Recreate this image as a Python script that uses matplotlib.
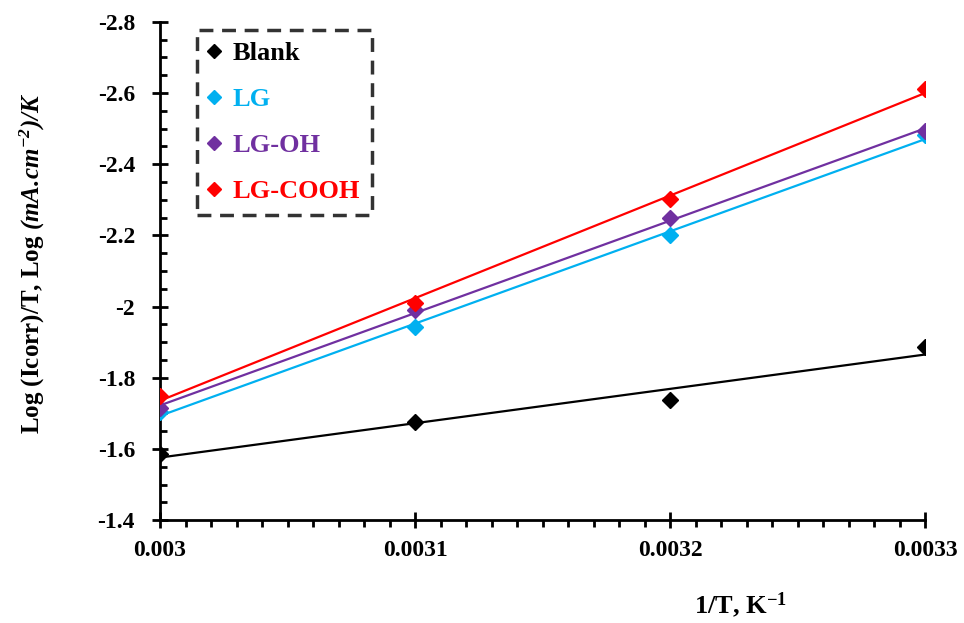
import numpy as np
import matplotlib
matplotlib.use('Agg')
import matplotlib.pyplot as plt
from matplotlib.ticker import MultipleLocator, FuncFormatter

plt.rcParams['font.family'] = ['Liberation Serif', 'DejaVu Serif']
plt.rcParams['font.weight'] = 'bold'
plt.rcParams['mathtext.fontset'] = 'custom'
plt.rcParams['mathtext.rm'] = 'Liberation Serif:bold'
plt.rcParams['mathtext.bf'] = 'Liberation Serif:bold'
plt.rcParams['mathtext.it'] = 'Liberation Serif:italic:bold'
plt.rcParams['mathtext.bfit'] = 'Liberation Serif:italic:bold'

inv_t = [0.0030, 0.0031, 0.0032, 0.0033]
blank = [-1.585, -1.675, -1.737, -1.886]
lg = [-1.704, -1.942, -2.200, -2.482]
lg_oh = [-1.715, -1.990, -2.248, -2.494]
lg_cooh = [-1.748, -2.010, -2.303, -2.611]

series = [
    ('Blank', blank, '#000000'),
    ('LG', lg, '#00B0F0'),
    ('LG-OH', lg_oh, '#7030A0'),
    ('LG-COOH', lg_cooh, '#FF0000'),
]

fig = plt.figure(figsize=(9.64, 6.23), dpi=100)
ax = fig.add_axes([0.166, 0.165, 0.794, 0.800])

x = np.array(inv_t)
for name, vals, color in series:
    slope, icpt = np.polyfit(x, vals, 1)
    ax.plot(x, slope * x + icpt, color=color, linewidth=1.6, zorder=2)
    ax.plot(x, vals, linestyle='none', marker='D', markersize=8.5,
            color=color, label=name, zorder=3)

ax.set_xlim(0.003, 0.0033)
ax.set_ylim(-1.4, -2.8)

for side in ('top', 'right'):
    ax.spines[side].set_visible(False)
for side in ('left', 'bottom'):
    ax.spines[side].set_linewidth(2)

ax.xaxis.set_major_locator(MultipleLocator(0.0001))
ax.xaxis.set_minor_locator(MultipleLocator(0.00001))
ax.yaxis.set_major_locator(MultipleLocator(0.2))
ax.yaxis.set_minor_locator(MultipleLocator(0.05))
ax.xaxis.set_major_formatter(FuncFormatter(lambda v, p: f'{v:.4f}'.rstrip('0')))
ax.yaxis.set_major_formatter(FuncFormatter(lambda v, p: f'{v:.1f}'.rstrip('0').rstrip('.')))

ax.tick_params(axis='both', which='major', direction='inout', length=12, width=2,
               labelsize=17)
ax.tick_params(axis='x', which='major', pad=8)
ax.tick_params(axis='y', which='major', pad=12)
ax.tick_params(axis='x', which='minor', direction='out', length=5, width=2)
ax.tick_params(axis='y', which='minor', direction='in', length=5, width=2)
for lbl in ax.get_xticklabels() + ax.get_yticklabels():
    lbl.set_fontweight('bold')

fig.text(0.768, 0.029, r'1/T, K$^{-1}$', ha='center', va='center',
         fontsize=19, fontweight='bold')
fig.text(0.034, 0.578, r'Log (Icorr)/T, Log $\mathbfit{(mA.\!cm^{-2})/K}$',
         rotation=90, ha='center', va='center', fontsize=18, fontweight='bold')

leg = ax.legend(loc='upper left', bbox_to_anchor=(0.048, 0.984), frameon=True,
                fancybox=False, handletextpad=0.5, handlelength=0.4,
                labelspacing=0.85, borderpad=0.45, borderaxespad=0,
                prop={'size': 19, 'weight': 'bold'}, markerscale=0.8)
frame = leg.get_frame()
frame.set_edgecolor('black')
frame.set_linewidth(2.5)
frame.set_linestyle((0, (4, 2.5)))
for text, (_, _, color) in zip(leg.get_texts(), series):
    text.set_color(color)

fig.savefig('out.png', dpi=100)
